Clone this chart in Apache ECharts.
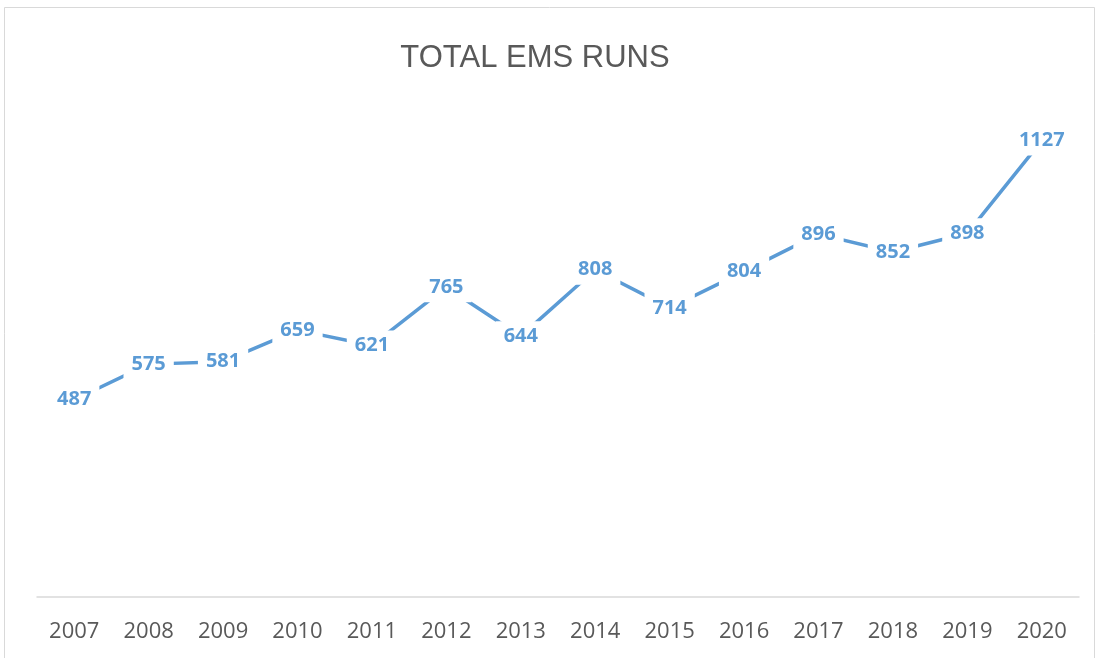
<!DOCTYPE html>
<html>
<head>
<meta charset="utf-8">
<script src="https://cdn.jsdelivr.net/npm/echarts@6/dist/echarts.min.js"></script>
<style>
html, body { margin: 0; padding: 0; background: #fff; }
#chart { width: 1100px; height: 658px; }
</style>
</head>
<body>
<div id="chart"></div>
<script>
// data
var years = ['2007', '2008', '2009', '2010', '2011', '2012', '2013', '2014', '2015', '2016', '2017', '2018', '2019', '2020'];
var runs = [487, 575, 581, 659, 621, 765, 644, 808, 714, 804, 896, 852, 898, 1127];

var chart = echarts.init(document.getElementById('chart'));

var option = {
    backgroundColor: '#fff',
    title: {
        text: 'TOTAL EMS RUNS',
        left: 530,
        top: 38,
        textAlign: 'center',
        textStyle: {
            fontFamily: 'Liberation Sans',
            fontSize: 31,
            fontWeight: 'normal',
            color: '#595959'
        }
    },
    graphic: [{
        type: 'rect',
        shape: { x: 4.5, y: 7.5, width: 1090, height: 660 },
        style: { fill: 'none', stroke: '#d9d9d9', lineWidth: 1 },
        silent: true
    }],
    grid: {
        left: 37,
        right: 21,
        top: 111,
        bottom: 61
    },
    xAxis: {
        type: 'category',
        data: years,
        boundaryGap: true,
        axisLine: { lineStyle: { color: '#d9d9d9', width: 1.5 } },
        axisTick: { show: false },
        axisLabel: {
            margin: 24,
            fontFamily: 'Open Sans',
            fontSize: 22,
            color: '#595959'
        }
    },
    yAxis: {
        type: 'value',
        min: 0,
        max: 1200,
        show: false,
        splitLine: { show: false }
    },
    series: [{
        name: 'Total EMS Runs',
        type: 'line',
        data: runs,
        symbol: 'circle',
        symbolSize: 1,
        itemStyle: { color: 'rgba(0,0,0,0)' },
        lineStyle: { color: '#5b9bd5', width: 3.5 },
        label: {
            show: true,
            position: 'inside',
            fontFamily: 'Open Sans',
            fontSize: 20,
            fontWeight: 'bold',
            color: '#5b9bd5',
            backgroundColor: '#fff',
            padding: [5, 8]
        },
        animation: false
    }]
};

option && chart.setOption(option);
</script>
</body>
</html>
